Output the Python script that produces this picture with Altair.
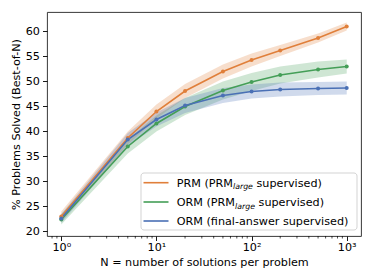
import altair as alt
import pandas as pd

# ---- data ----
N = [1, 5, 10, 20, 50, 100, 200, 500, 1000]
series_names = ["PRM", "ORM (PRM)", "ORM (final-answer)"]
prm = [22.9, 38.6, 43.9, 48.0, 51.9, 54.2, 56.1, 58.6, 60.9]
orm_prm = [22.3, 36.9, 41.5, 44.9, 48.1, 49.8, 51.2, 52.3, 52.9]
orm_fa = [22.5, 38.3, 42.3, 45.1, 47.1, 47.9, 48.3, 48.5, 48.6]
prm_err = [1.0, 1.3, 1.4, 1.4, 1.4, 1.3, 1.1, 0.9, 0.8]
orm_prm_err = [1.0, 1.4, 1.6, 1.7, 1.8, 1.8, 1.7, 1.6, 1.4]
orm_fa_err = [0.9, 1.3, 1.4, 1.5, 1.5, 1.4, 1.4, 1.3, 1.3]
colors = ["#e07f3a", "#449e57", "#4a70b5"]

x_major = [1, 10, 100, 1000]
x_major_labels = ["10⁰", "10¹", "10²", "10³"]
x_minor = [0.8, 0.9, 2, 3, 4, 5, 6, 7, 8, 9, 20, 30, 40, 50, 60, 70, 80, 90,
           200, 300, 400, 500, 600, 700, 800, 900]
y_ticks = [20, 25, 30, 35, 40, 45, 50, 55, 60]

legend_main = ["PRM (PRM", "ORM (PRM", "ORM (final-answer supervised)"]
legend_sub = ["large", "large", ""]
legend_tail = ["supervised)", "supervised)", ""]

FONT = "DejaVu Sans"
FS = 11.2
W, H = 314, 224

rows = []
for name, vals, errs in zip(series_names, [prm, orm_prm, orm_fa],
                            [prm_err, orm_prm_err, orm_fa_err]):
    for n, v, e in zip(N, vals, errs):
        rows.append({"N": n, "v": v, "lo": v - e, "hi": v + e, "series": name})
df = pd.DataFrame(rows)

xscale = alt.Scale(type="log", domain=[0.708, 1413], nice=False)
yscale = alt.Scale(domain=[19.0, 63.8], nice=False, zero=False)
cscale = alt.Scale(domain=series_names, range=colors)

label_expr = " : ".join(
    f"datum.value == {v} ? '{l}'" for v, l in zip(x_major[:-1], x_major_labels[:-1])
) + f" : '{x_major_labels[-1]}'"

x_axis = alt.Axis(values=x_major, labelExpr=label_expr, grid=False, domain=False,
                  tickSize=4.5, tickWidth=0.9, tickColor="#000", labelPadding=1,
                  labelFont=FONT, labelFontSize=FS, labelColor="#000",
                  title="N = number of solutions per problem", titleFont=FONT,
                  titleFontSize=FS, titleFontWeight="normal", titleColor="#000",
                  titlePadding=4, labelFlush=False)
y_axis = alt.Axis(values=y_ticks, grid=False, domain=False, tickSize=4.5,
                  tickWidth=0.9, tickColor="#000", labelPadding=3, labelFont=FONT,
                  labelFontSize=FS, labelColor="#000",
                  title="% Problems Solved (Best-of-N)", titleFont=FONT,
                  titleFontSize=FS, titleFontWeight="normal", titleColor="#000",
                  titlePadding=4)

X = lambda f: alt.X(f, scale=xscale, axis=x_axis)
Y = lambda f: alt.Y(f, scale=yscale, axis=y_axis)
C = alt.Color("series:N", scale=cscale, legend=None)

base = alt.Chart(df)
bands = base.mark_area(opacity=0.26).encode(
    x=X("N:Q"), y=Y("lo:Q"), y2="hi:Q", color=C, detail="series:N",
)
lines = base.mark_line(strokeWidth=1.6).encode(x=X("N:Q"), y=Y("v:Q"), color=C)
points = base.mark_circle(size=16, opacity=1).encode(x=X("N:Q"), y=Y("v:Q"), color=C)
minor = alt.Chart(pd.DataFrame({"m": x_minor})).mark_rule(
    color="#000", strokeWidth=0.7).encode(
    x=X("m:Q"), y=alt.value(H), y2=alt.value(H + 2.5),
)

one = pd.DataFrame({"a": [0]})
legend_layers = [
    alt.Chart(one).mark_rect(fill="white", fillOpacity=0.85, stroke="#d3d3d3",
                             strokeWidth=1, cornerRadius=3).encode(
        x=alt.value(94), x2=alt.value(310), y=alt.value(161), y2=alt.value(218))
]
line_ys = [170.7, 190.0, 209.0]
sub_xs = [186.0, 188.1, 0]
tail_xs = [209.5, 211.6, 0]
for i in range(3):
    ly = line_ys[i]
    legend_layers.append(
        alt.Chart(one).mark_rule(color=colors[i], strokeWidth=1.6).encode(
            x=alt.value(96.5), x2=alt.value(121.5), y=alt.value(ly)))
    legend_layers.append(
        alt.Chart(one).mark_text(align="left", baseline="alphabetic", font=FONT,
                                 fontSize=FS, color="#000").encode(
            x=alt.value(129.7), y=alt.value(ly + 4), text=alt.value(legend_main[i])))
    if legend_sub[i]:
        legend_layers.append(
            alt.Chart(one).mark_text(align="left", baseline="alphabetic", font=FONT,
                                     fontSize=7.8, fontStyle="italic",
                                     color="#000").encode(
                x=alt.value(sub_xs[i]), y=alt.value(ly + 6.5),
                text=alt.value(legend_sub[i])))
        legend_layers.append(
            alt.Chart(one).mark_text(align="left", baseline="alphabetic", font=FONT,
                                     fontSize=FS, color="#000").encode(
                x=alt.value(tail_xs[i]), y=alt.value(ly + 4),
                text=alt.value(legend_tail[i])))

chart = alt.layer(bands, lines, points, minor, *legend_layers).properties(
    width=W, height=H,
    autosize=alt.AutoSizeParams(type="none"),
    padding={"left": 39, "top": 4, "right": 5, "bottom": 36},
).configure_view(stroke="#222", strokeWidth=0.9)

chart.save("out.html", embed_options={"renderer": "svg", "actions": False})
